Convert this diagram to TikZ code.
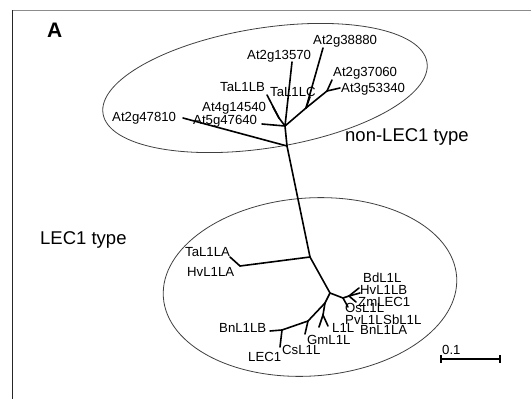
\documentclass[tikz,border=0pt]{standalone}
\usepackage{fontspec}
\setmainfont{Liberation Sans}
\usetikzlibrary{positioning}

\tikzset{
  branch/.style={black, line width=1.6pt, line cap=round},
  clade/.style={black!75, line width=0.8pt},
  taxon/.style={font=\fontsize{13.2}{14}\selectfont, inner sep=0pt, anchor=base west},
  group/.style={font=\fontsize{18.5}{20}\selectfont, inner sep=0pt, anchor=base west},
}

\begin{document}
\begin{tikzpicture}[x=1pt,y=-1pt]
\useasboundingbox (0,0) rectangle (531,399);
\draw[black!45, line width=1.3pt] (12,10.5) -- (531,10.5);
\draw[black!85, line width=1pt] (12.5,10) -- (12.5,399);
\node[font=\bfseries\fontsize{21}{22}\selectfont, inner sep=0pt, anchor=base west] (panel) at (47,37) {A};

\draw[clade, rotate around={9:(265,88)}] (265,88) ellipse [x radius=164, y radius=60];
\draw[clade, rotate around={4:(310,287)}] (310,287) ellipse [x radius=147, y radius=89];

% inner nodes
\coordinate (stem) at (287,146);
\coordinate (up) at (285,126);
\coordinate (ul) at (279,118);
\coordinate (uv) at (306,108);
\coordinate (uw) at (327,91);
\coordinate (mid) at (310,257);
\coordinate (hv) at (240,266);
\coordinate (lo) at (330,293);
\coordinate (gr) at (343,298);
\coordinate (gr2) at (349,296);
\coordinate (lb) at (325,303);
\coordinate (lp) at (323,315);
\coordinate (le) at (308,321);
\coordinate (lf) at (282,330);

% tips
\foreach \name/\x/\y in {At2g47810/183/118, At5g47640/262/124, At4g14540/273/107,
  TaL1LB/267/95, At2g13570/292/62, TaL1LC/310/97, At2g38880/323/48,
  At2g37060/332/80, At3g53340/340/88, TaL1LA/230/257,
  BdL1L/359/288, HvL1LB/360/293, ZmLEC1/356/302, OsL1L/348/307,
  GmL1L/319/327, L1L/328/326, CsL1L/305/334, BnL1LB/270/331, LEC1/280/347}
  \coordinate (tip\name) at (\x,\y);

\foreach \a/\b in {stem/up, stem/mid, tipAt2g47810/stem, tipAt5g47640/up, ul/up,
  tipTaL1LB/ul, tipAt4g14540/ul, up/tipAt2g13570, up/uv, uv/tipTaL1LC,
  uv/tipAt2g38880, uv/uw, uw/tipAt2g37060, uw/tipAt3g53340,
  mid/hv, hv/tipTaL1LA, mid/lo, lo/gr, gr/gr2, gr2/tipBdL1L, gr2/tipHvL1LB,
  gr2/tipZmLEC1, gr/tipOsL1L, lo/lb, lb/lp, lp/tipGmL1L, lp/tipL1L,
  lb/le, le/tipCsL1L, le/lf, lf/tipBnL1LB, lf/tipLEC1}
  \draw[branch] (\a) -- (\b);

% labels
\foreach \name/\x/\y in {At2g38880/313/44.5, At2g13570/247/59.5, At2g37060/333/76.5,
  At3g53340/341/92.5, TaL1LC/270/96.5, TaL1LB/220/91.5, At4g14540/202/111.5,
  At5g47640/193/124.5, At2g47810/112/121.5, TaL1LA/185/256.5, HvL1LA/187/276.5,
  BnL1LB/219/332, LEC1/248/361.5, CsL1L/282/354.5, GmL1L/307/344.5, L1L/332/332.5,
  BdL1L/363/282.5, HvL1LB/360/294.5, ZmLEC1/358/306.5, OsL1L/345/312.5,
  PvL1L/345/324.5, SbL1L/383/324.5, BnL1LA/360/334.5}
  \node[taxon] (lab\name) at (\x,\y) {\name};

\node[group] (nonlec) at (345,141) {non-LEC1 type};
\node[group] (lec) at (40,244) {LEC1 type};

\coordinate (bar0) at (441,359);
\coordinate (bar1) at (500,359);
\draw[branch, line cap=butt] (bar0) -- (bar1);
\draw[branch, line cap=butt] ([yshift=4pt]bar0) -- ([yshift=-4pt]bar0);
\draw[branch, line cap=butt] ([yshift=4pt]bar1) -- ([yshift=-4pt]bar1);
\node[taxon] (scale) at (442,354.5) {0.1};
\end{tikzpicture}
\end{document}
